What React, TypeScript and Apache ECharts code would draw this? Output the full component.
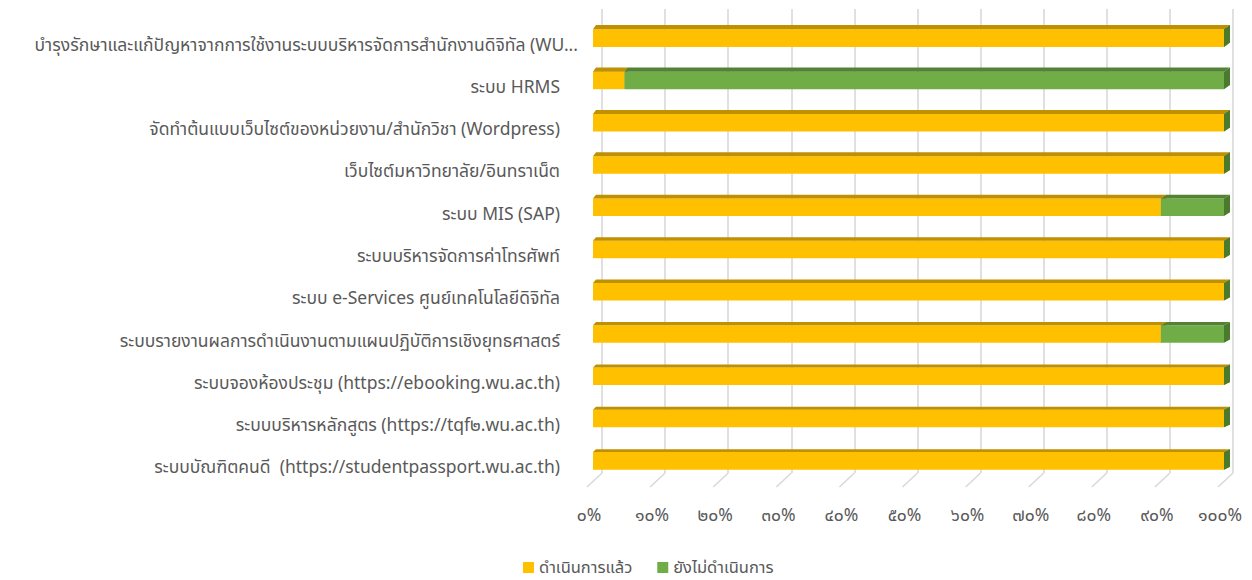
import React, { useEffect, useRef } from "react";
import * as echarts from "echarts";

const categories = [
  "บำรุงรักษาและแก้ปัญหาจากการใช้งานระบบบริหารจัดการสำนักงานดิจิทัล (WU...",
  "ระบบ HRMS",
  "จัดทำต้นแบบเว็บไซต์ของหน่วยงาน/สำนักวิชา (Wordpress)",
  "เว็บไซต์มหาวิทยาลัย/อินทราเน็ต",
  "ระบบ MIS (SAP)",
  "ระบบบริหารจัดการค่าโทรศัพท์",
  "ระบบ e-Services ศูนย์เทคโนโลยีดิจิทัล",
  "ระบบรายงานผลการดำเนินงานตามแผนปฏิบัติการเชิงยุทธศาสตร์",
  "ระบบจองห้องประชุม (https://ebooking.wu.ac.th)",
  "ระบบบริหารหลักสูตร (https://tqf๒.wu.ac.th)",
  "ระบบบัณฑิตคนดี  (https://studentpassport.wu.ac.th)",
];
const doneValues = [100, 5, 100, 100, 90, 100, 100, 90, 100, 100, 100];
const notDoneValues = [0, 95, 0, 0, 10, 0, 0, 10, 0, 0, 0];
const seriesNames = ["ดำเนินการแล้ว", "ยังไม่ดำเนินการ"];
const tickValues = [0, 10, 20, 30, 40, 50, 60, 70, 80, 90, 100];
const tickLabels = ["๐%", "๑๐%", "๒๐%", "๓๐%", "๔๐%", "๕๐%", "๖๐%", "๗๐%", "๘๐%", "๙๐%", "๑๐๐%"];

const FONT = '"Noto Sans Thai", "Leelawadee UI", Tahoma, "Noto Sans", "DejaVu Sans", sans-serif';

function makeRender(front: string, top: string, side: string, alwaysSide: boolean) {
  return (params: any, api: any) => {
    const start = api.value(0);
    const end = api.value(1);
    const cat = api.value(2);
    const p0 = api.coord([start, cat]);
    const p1 = api.coord([end, cat]);
    const x0 = api.coord([0, cat])[0];
    const x100 = api.coord([100, cat])[0];
    const band = api.size([0, 1])[1];
    const h = band * 0.415;
    const yTop = p0[1] - h / 2;
    const yBot = p0[1] + h / 2;
    const frac = cat / (categories.length - 1);
    const dy = 4.3 - 1.5 * frac;
    const dxAt = (x: number) => 3 + 3 * (x - x0) / (x100 - x0);
    const children: any[] = [];
    const w = p1[0] - p0[0];
    if (w > 0) {
      children.push({
        type: "rect",
        shape: { x: p0[0], y: yTop, width: w, height: h },
        style: { fill: front },
      });
      children.push({
        type: "polygon",
        shape: {
          points: [
            [p0[0], yTop],
            [p1[0], yTop],
            [p1[0] + dxAt(p1[0]), yTop - dy],
            [p0[0] + dxAt(p0[0]), yTop - dy],
          ],
        },
        style: { fill: top },
      });
    }
    if (w > 0 || alwaysSide) {
      const d1 = dxAt(p1[0]);
      children.push({
        type: "polygon",
        shape: {
          points: [
            [p1[0], yTop],
            [p1[0] + d1, yTop - dy],
            [p1[0] + d1, yBot - dy],
            [p1[0], yBot],
          ],
        },
        style: { fill: side },
      });
    }
    return { type: "group", children };
  };
}

export default function App() {
  const ref = useRef<HTMLDivElement>(null);
  useEffect(() => {
    document.body.style.margin = "0";
    const chart = echarts.init(ref.current!, null, { renderer: "svg" });
    const doneData = doneValues.map((v, i) => [0, v, i]);
    const notDoneData = notDoneValues.map((v, i) => [doneValues[i], doneValues[i] + v, i]);
    chart.setOption({
      animation: false,
      backgroundColor: "#ffffff",
      textStyle: { fontFamily: FONT },
      grid: [
        { left: 593, width: 631, top: 17, height: 465 },
        { left: 602, width: 631, top: 9, height: 464 },
      ],
      xAxis: [
        {
          gridIndex: 0, type: "value", min: 0, max: 100, interval: 10,
          axisLine: { show: false }, axisTick: { show: false },
          axisLabel: { show: false }, splitLine: { show: false },
        },
        {
          gridIndex: 1, type: "value", min: 0, max: 100, interval: 10,
          axisLine: { show: false }, axisTick: { show: false },
          splitLine: { show: true, lineStyle: { color: "#d9d9d9", width: 1.6 } },
          axisLabel: {
            margin: 33,
            fontSize: 17.5,
            color: "#595959",
            fontFamily: FONT,
            padding: [0, 26, 0, 0],
            formatter: (v: number) => tickLabels[tickValues.indexOf(v)] ?? "",
          },
        },
      ],
      yAxis: [
        {
          gridIndex: 0, type: "category", data: categories, inverse: true,
          axisLine: { show: false }, axisTick: { show: false }, splitLine: { show: false },
          axisLabel: {
            margin: 15,
            fontSize: 17.5,
            color: "#595959",
            fontFamily: FONT,
            formatter: (v: string) => (v === categories[0] ? `{b|${v}}` : `{a|${v}}`),
            rich: {
              a: { fontSize: 17.5, color: "#595959", fontFamily: FONT, padding: [14, 18, 0, 0] },
              b: { fontSize: 17.5, color: "#595959", fontFamily: FONT, padding: [14, 0, 0, 0] },
            },
          },
        },
        {
          gridIndex: 1, type: "value", min: 0, max: 1, show: false,
        },
      ],
      legend: {
        data: seriesNames,
        left: 518,
        top: 554,
        icon: "rect",
        itemWidth: 11,
        itemHeight: 11,
        itemGap: 25,
        textStyle: { fontSize: 16.5, color: "#595959", fontFamily: FONT },
      },
      series: [
        {
          type: "custom",
          name: "floor",
          xAxisIndex: 1,
          yAxisIndex: 1,
          silent: true,
          data: tickValues.map((v) => [v, 0]),
          encode: { x: 0, y: 1 },
          renderItem: (params: any, api: any) => {
            const p = api.coord([api.value(0), 0]);
            return {
              type: "line",
              shape: { x1: p[0], y1: p[1], x2: p[0] - 15, y2: p[1] + 14 },
              style: { stroke: "#d9d9d9", lineWidth: 1.6 },
            };
          },
          z: 1,
        },
        {
          type: "custom",
          name: seriesNames[0],
          xAxisIndex: 0,
          yAxisIndex: 0,
          itemStyle: { color: "#FFC000" },
          data: doneData,
          encode: { x: [0, 1], y: 2 },
          renderItem: makeRender("#FFC000", "#BF9000", "#BF9000", false),
          z: 3,
        },
        {
          type: "custom",
          name: seriesNames[1],
          xAxisIndex: 0,
          yAxisIndex: 0,
          itemStyle: { color: "#70AD47" },
          data: notDoneData,
          encode: { x: [0, 1], y: 2 },
          renderItem: makeRender("#70AD47", "#548235", "#4A7A2C", true),
          z: 4,
        },
      ],
    });
    return () => chart.dispose();
  }, []);
  return <div ref={ref} style={{ width: 1252, height: 580 }} />;
}
